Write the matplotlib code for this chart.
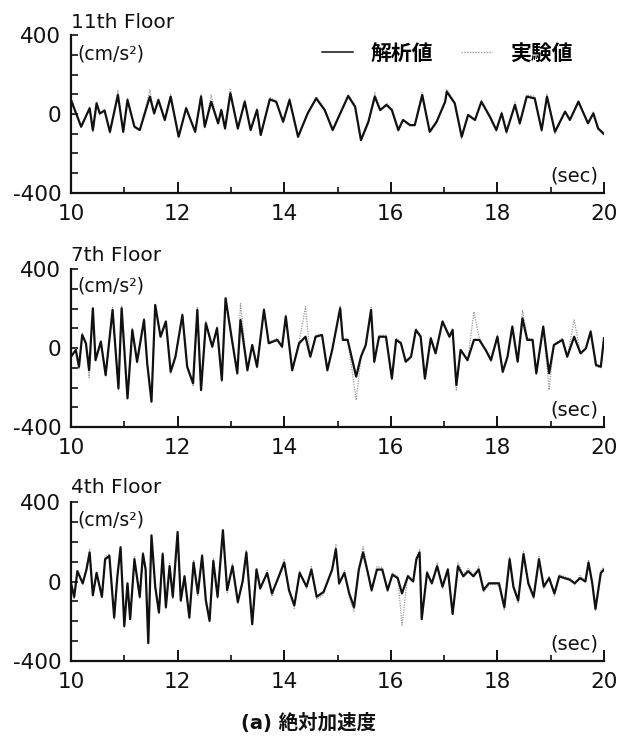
import matplotlib
matplotlib.use("Agg")
import matplotlib.pyplot as plt
from matplotlib.lines import Line2D
from matplotlib.ticker import MultipleLocator, FixedLocator

# ---------------- data ----------------
floor_titles = ["11th Floor", "7th Floor", "4th Floor"]
legend_labels = ["解析値", "実験値"]
caption = "(a) 絶対加速度"
x_ticks = [10, 12, 14, 16, 18, 20]
y_ticks = [-400, 0, 400]

# 11th floor
t11 = [10.00, 10.19, 10.35, 10.41, 10.48, 10.54, 10.63, 10.73, 10.88, 10.98,
       11.06, 11.19, 11.29, 11.48, 11.56, 11.64, 11.76, 11.87,
       12.02, 12.16, 12.33, 12.44, 12.51, 12.63, 12.76, 12.82, 12.89, 12.99,
       13.13, 13.26, 13.37, 13.49, 13.56, 13.73, 13.85, 13.98,
       14.10, 14.26, 14.44, 14.60, 14.76, 14.91,
       15.20, 15.33, 15.44, 15.58, 15.70, 15.80, 15.92, 16.02, 16.14, 16.23,
       16.36, 16.45, 16.59, 16.73, 16.86, 17.02, 17.05, 17.20, 17.33, 17.45,
       17.58, 17.70, 17.86, 17.98, 18.08, 18.17, 18.33, 18.42, 18.55, 18.70,
       18.83, 18.93, 19.08, 19.27, 19.36, 19.52, 19.70, 19.80, 19.89, 20.00]
a11_ana = [71, -64, 29, -81, 54, 3, 17, -90, 96, -90,
           71, -64, -81, 88, 3, 71, -30, 88,
           -115, 29, -90, 88, -64, 62, -47, 20, -73, 105,
           -73, 62, -81, 20, -106, 74, 62, -39,
           71, -115, 3, 79, 20, -81,
           91, 37, -132, -39, 88, 20, 46, 20, -81, -30,
           -56, -56, 96, -90, -39, 62, 113, 54, -115, -5,
           -30, 62, -14, -81, 3, -90, 46, -47, 88, 79,
           -81, 88, -90, 12, -30, 62, -47, 3, -73, -101]
a11_exp = [80, -70, 35, -95, 60, -5, 25, -100, 118, -95,
           80, -70, -85, 122, 0, 80, -35, 100,
           -118, 35, -95, 100, -70, 96, -50, 25, -80, 125,
           -78, 75, -88, 30, -112, 85, 65, -45,
           80, -122, 0, 88, 25, -85,
           100, 45, -140, -45, 108, 15, 55, 25, -88, -35,
           -60, -60, 110, -95, -45, 70, 125, 60, -125, 0,
           -35, 70, -20, -88, 10, -100, 60, -55, 95, 90,
           -88, 100, -100, 15, -35, 70, -52, 10, -80, -105]

# 7th floor
t7 = [10.00, 10.09, 10.15, 10.21, 10.28, 10.34, 10.41, 10.46, 10.56, 10.65,
      10.78, 10.89, 10.95, 11.06, 11.15, 11.24, 11.37, 11.43, 11.51, 11.58,
      11.68, 11.78, 11.87, 11.96, 12.09, 12.18, 12.29, 12.37, 12.44, 12.53,
      12.65, 12.74, 12.83, 12.90, 13.02, 13.12, 13.18, 13.31, 13.40, 13.49,
      13.62, 13.71, 13.87, 13.96, 14.03, 14.15, 14.28, 14.40, 14.49, 14.59,
      14.71, 14.81, 14.90,
      15.05, 15.10, 15.19, 15.35, 15.44, 15.53, 15.63, 15.69, 15.78, 15.91,
      16.02, 16.10, 16.19, 16.28, 16.38, 16.47, 16.56, 16.64, 16.75, 16.84,
      16.97, 17.10, 17.16, 17.23, 17.31, 17.44, 17.56, 17.66, 17.78, 17.88,
      18.00, 18.10, 18.19, 18.28, 18.38, 18.47, 18.56, 18.66, 18.73, 18.86,
      18.97, 19.06, 19.22, 19.31, 19.44, 19.56, 19.66, 19.75, 19.85, 19.94,
      20.00]
a7_ana = [-44, -10, -95, 66, 24, -112, 201, -61, 32, -137,
          193, -204, 201, -255, 91, -69, 142, -78, -272, 218,
          57, 134, -120, -44, 167, -95, -179, 193, -213, 125,
          7, 100, -162, 252, 41, -128, 142, -112, 15, -95,
          193, 24, 41, 7, 159, -112, 24, 57, -44, 57,
          66, -112, -10,
          201, 41, 41, -145, -44, 15, 193, -69, 57, 57,
          -154, 41, 24, -69, -44, 91, 57, -154, 49, -27,
          134, 57, 91, -188, -10, -61, 41, 41, -10, -61,
          57, -120, -44, 108, -69, 150, 41, 41, -128, 108,
          -128, 15, 41, -44, 57, -27, -2, 83, -86, -95,
          49]
a7_exp = [-50, -5, -105, 75, 20, -150, 190, -70, 40, -145,
          205, -210, 215, -250, 100, -80, 150, -85, -260, 205,
          65, 140, -130, -40, 175, -100, -190, 205, -200, 135,
          0, 110, -170, 240, 50, -135, 226, -120, 20, -100,
          200, 30, 50, 0, 170, -120, 30, 210, -50, 65,
          70, -120, -15,
          215, 50, 45, -264, -50, 20, 205, -75, 65, 65,
          -160, 50, 30, -75, -50, 100, 65, -160, 55, -30,
          140, 65, 100, -213, -5, -70, 184, 50, -15, -70,
          65, -130, -50, 115, -75, 193, 50, 45, -135, 115,
          -213, 20, 50, -50, 142, -30, 0, 90, -95, -100,
          55]

# 4th floor
t4 = [10.00, 10.06, 10.12, 10.22, 10.29, 10.35, 10.41, 10.48, 10.58, 10.64,
      10.72, 10.81, 10.87, 10.93, 11.00, 11.06, 11.11, 11.19, 11.29, 11.35,
      11.40, 11.45, 11.51, 11.58, 11.65, 11.72, 11.78, 11.85, 11.91, 12.00,
      12.06, 12.13, 12.22, 12.30, 12.38, 12.46, 12.53, 12.60, 12.67, 12.75,
      12.85, 12.93, 13.03, 13.13, 13.22, 13.29, 13.40, 13.48, 13.55, 13.68,
      13.77, 13.90, 14.00, 14.09, 14.19, 14.29, 14.42, 14.51, 14.61, 14.74,
      14.90, 14.97, 15.03, 15.13, 15.22, 15.31, 15.40, 15.48, 15.57, 15.64,
      15.74, 15.84, 15.94, 16.03, 16.13, 16.21, 16.32, 16.42, 16.48, 16.54,
      16.58, 16.68, 16.77, 16.87, 16.97, 17.07, 17.16, 17.26, 17.36, 17.45,
      17.55, 17.65, 17.74, 17.84, 17.94, 18.03, 18.13, 18.23, 18.30, 18.39,
      18.49, 18.58, 18.68, 18.78, 18.87, 18.97, 19.07, 19.16, 19.26, 19.36,
      19.45, 19.55, 19.65, 19.71, 19.78, 19.84, 19.94, 20.00]
a4_ana = [-9, -77, 52, -9, 60, 146, -69, 43, -77, 112,
          129, -181, 26, 172, -224, -9, -189, 112, -77, 138,
          60, -310, 232, -26, -155, 138, -129, 77, -77, 249,
          -95, 26, -181, 95, -60, 129, -95, -198, 103, -77,
          258, -43, 77, -103, 0, 146, -215, 60, -34, 43,
          -60, 26, 95, -43, -120, 43, -26, 60, -77, -52,
          60, 163, -9, 43, -60, -129, 60, 146, 43, -43,
          60, 60, -43, 34, 17, -60, 26, 0, 112, 146,
          -189, 43, -9, 77, -26, 60, -163, 77, 26, 52,
          26, 60, -43, -9, -9, -9, -129, 112, -26, -95,
          138, -9, -77, 112, -26, 17, -60, 26, 17, 9,
          -9, 17, 0, 95, -9, -138, 43, 60]
a4_exp = [-20, -90, 60, -15, 70, 160, -75, 50, -85, 125,
          140, -190, 30, 180, -230, -15, -195, 125, -85, 150,
          70, -300, 225, -35, -165, 150, -135, 90, -90, 235,
          -105, 35, -190, 110, -70, 140, -105, -205, 115, -85,
          245, -55, 90, -110, 10, 160, -210, 70, -45, 55,
          -75, 35, 110, -55, -135, 55, -35, 75, -90, -65,
          70, 185, -15, 55, -80, -150, 70, 175, 50, -55,
          75, 70, -55, 45, 25, -220, 35, 5, 125, 160,
          -195, 55, -15, 95, -35, 70, -170, 95, 35, 65,
          35, 75, -55, -15, -15, -20, -145, 125, -35, -110,
          150, -20, -90, 125, -35, 25, -75, 35, 25, 15,
          -15, 30, 5, 110, -15, -145, 55, 75]

series = [(t11, a11_ana, a11_exp), (t7, a7_ana, a7_exp), (t4, a4_ana, a4_exp)]

# ---------------- figure ----------------
W, H = 628, 738
fig = plt.figure(figsize=(W / 100, H / 100), dpi=100)
LATIN = "DejaVu Sans"
CJK = ["Noto Sans CJK JP", "DejaVu Sans"]

panels_px = [(71, 35, 193), (71, 269, 427), (71, 502, 661)]  # left, top, bottom
right_px = 604

ana_color = "#111111"
exp_color = "#9a9a9a"

for i, ((left, top, bot), (t, ana, exp)) in enumerate(zip(panels_px, series)):
    ax = fig.add_axes([left / W, 1 - bot / H, (right_px - left) / W, (bot - top) / H])
    ax.plot(t, exp, color=exp_color, lw=0.9, ls=(0, (1, 1)), zorder=2)
    ax.plot(t, ana, color=ana_color, lw=1.6, zorder=3)
    ax.set_xlim(10, 20)
    ax.set_ylim(-400, 400)
    ax.patch.set_visible(False)
    for s in ("top", "right"):
        ax.spines[s].set_visible(False)
    for s in ("left", "bottom"):
        ax.spines[s].set_linewidth(1.6)
        ax.spines[s].set_color("#111111")
    ax.xaxis.set_major_locator(FixedLocator(x_ticks))
    ax.xaxis.set_minor_locator(MultipleLocator(1))
    ax.yaxis.set_major_locator(FixedLocator(y_ticks))
    ax.yaxis.set_minor_locator(MultipleLocator(100))
    ax.set_xticklabels([str(v) for v in x_ticks], fontsize=15.5, family=LATIN)
    ax.set_yticklabels([str(v) for v in y_ticks], fontsize=15.5, family=LATIN)
    ax.tick_params(axis="x", which="major", direction="in", length=8, width=1.4,
                   pad=8, colors="#111111")
    ax.tick_params(axis="x", which="minor", direction="in", length=4, width=1.2,
                   colors="#111111")
    ax.tick_params(axis="y", which="both", direction="in", length=5, width=1.2,
                   pad=7, colors="#111111")

    hpx = bot - top
    title_base = [28, 261, 493][i]
    ax.text(0.0, 1 + (top - title_base) / hpx, floor_titles[i], transform=ax.transAxes,
            ha="left", va="baseline", fontsize=14.5, family=LATIN, color="#111111")
    unit_base = [59, 292, 526][i]
    ax.text(6 / (right_px - left), 1 - (unit_base - top) / hpx, "(cm/s²)",
            transform=ax.transAxes, ha="left", va="baseline", fontsize=13.5,
            family=LATIN, color="#111111")
    sec_base = [182, 415, 649][i]
    ax.text((598 - left) / (right_px - left), (bot - sec_base) / hpx, "(sec)",
            transform=ax.transAxes, ha="right", va="baseline", fontsize=14,
            family=LATIN, color="#111111")

    if i == 0:
        handles = [Line2D([], [], color=ana_color, lw=1.1),
                   Line2D([], [], color=exp_color, lw=1.0, ls=(0, (1, 1)))]
        ax.legend(handles, legend_labels, loc="center left",
                  bbox_to_anchor=(322 / W, 1 - 53 / H),
                  bbox_transform=fig.transFigure, ncol=2, frameon=False,
                  borderpad=0, borderaxespad=0, handlelength=1.5,
                  handletextpad=0.85, columnspacing=1.3,
                  prop={"family": CJK, "weight": "bold", "size": 15})

fig.text(309 / W, 1 - 723 / H, caption, ha="center", va="center", fontsize=14,
         weight="bold", family=["DejaVu Sans", "Noto Sans CJK JP"], color="#111111")

fig.savefig("out.png", dpi=100, facecolor="white")
